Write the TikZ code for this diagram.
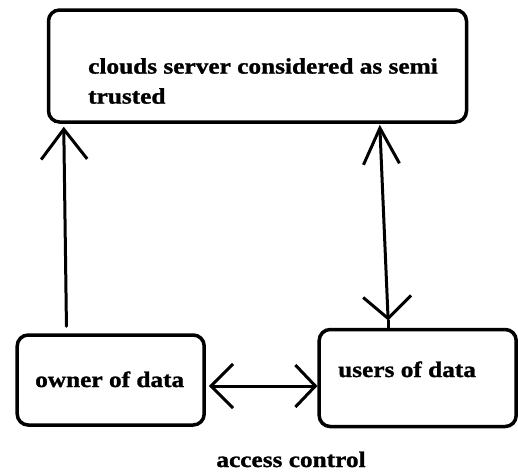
\documentclass[tikz,border=0pt]{standalone}
\usepackage{fontspec}
\setmainfont{Liberation Serif}[FakeStretch=1.14, BoldFeatures={FakeBold=1.2}]
\usetikzlibrary{arrows.meta}
\begin{document}
\begin{tikzpicture}[x=1pt,y=-1pt,
  box/.style={draw, line width=3.5pt, rounded corners=11pt, inner sep=0pt},
  lbl/.style={inner sep=0pt, font=\fontsize{22.2}{30}\selectfont\bfseries},
  arr/.style={line width=3pt, line cap=round, line join=round}]
\useasboundingbox (0,0) rectangle (518,472);
% boxes
\node[box, minimum width=418pt, minimum height=112pt] (cloud) at (257.5,66) {};
\node[box, minimum width=187pt, minimum height=90pt] (owner) at (110.7,380) {};
\node[box, minimum width=197pt, minimum height=97pt] (users) at (417.7,378) {};
% texts
\node[lbl, anchor=north west, align=left] (cloudtxt) at (88,58) {clouds server considered as semi\\trusted};
\node[lbl, anchor=base west] (ownertxt) at (35,387) {owner of data};
\node[lbl, anchor=base west] (userstxt) at (338,377) {users of data};
\node[lbl, anchor=base] (actxt) at (291,467) {access control};
% connectors
\draw[arr, -{Straight Barb[length=30pt,width=46pt]}]
  ([xshift=51pt,yshift=7pt]owner.north west) -- ([xshift=17pt,yshift=-3pt]cloud.south west);
\coordinate (ut) at ([xshift=70.7pt,yshift=7.3pt]users.north west);
\draw[arr] (ut) -- (ut |- users.north);
\draw[arr, {Straight Barb[length=22pt,width=48pt]}-{Straight Barb[length=36pt,width=36pt]}]
  (ut) -- ([xshift=333pt,yshift=-1pt]cloud.south west);
\draw[arr, {Straight Barb[length=22pt,width=44pt]}-{Straight Barb[length=20pt,width=42pt]}]
  ([xshift=3pt,yshift=-6pt]owner.east) -- ([yshift=-8pt]users.west);
\end{tikzpicture}
\end{document}
